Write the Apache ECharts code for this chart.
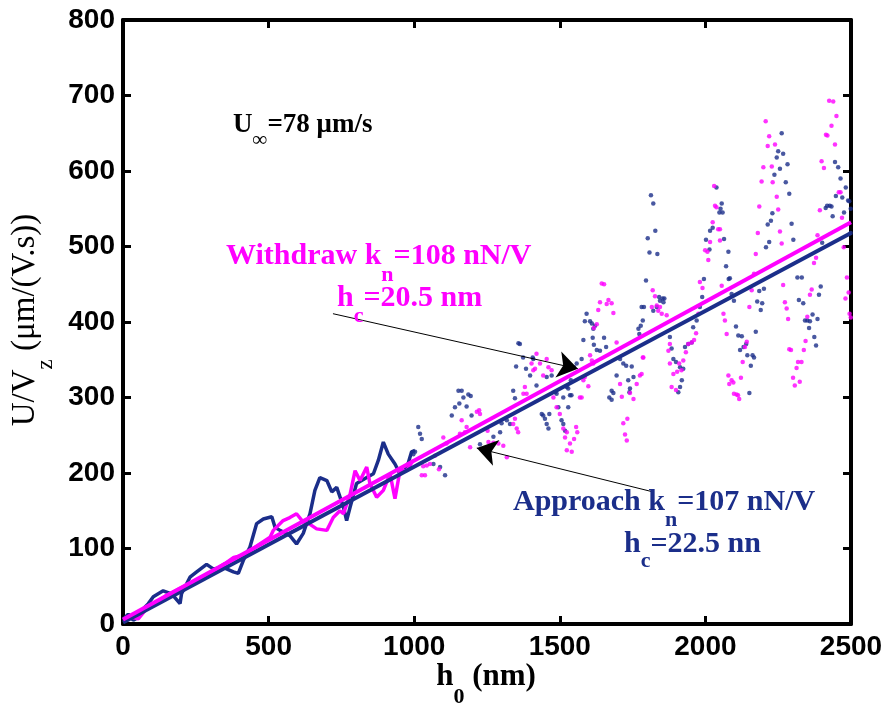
<!DOCTYPE html>
<html>
<head>
<meta charset="utf-8">
<script src="https://cdn.jsdelivr.net/npm/echarts@6/dist/echarts.min.js"></script>
<style>
html, body { margin: 0; padding: 0; background: #fff; }
#chart { width: 891px; height: 712px; }
</style>
</head>
<body>
<div id="chart"></div>
<script>
// approach (blue) and withdraw (pink) data
var xTicks = [0, 2500, 500];
var yTicks = [0, 800, 100];

var approachLine = [
    [0, 6], [18, 13], [35, 5], [53, 9], [64, 18], [87, 27], [104, 36], [138, 44], [167, 40], [196, 27],
    [201, 40], [230, 62], [253, 69], [287, 79], [310, 73], [344, 75], [379, 69], [396, 67], [413, 84], [436, 102],
    [459, 133], [482, 139], [511, 142], [522, 128], [539, 124], [573, 117], [596, 106], [619, 120], [642, 146], [659, 177],
    [676, 194], [700, 190], [717, 175], [734, 181], [757, 155], [768, 137], [780, 155], [802, 186], [837, 194], [860, 199],
    [877, 217], [894, 241], [911, 225], [934, 212], [951, 199], [974, 206], [991, 228], [1003, 230]
];

var withdrawLine = [
    [0, 5], [30, 9], [53, 7], [76, 18], [87, 22], [120, 30], [150, 38], [200, 48], [250, 58], [300, 68],
    [350, 80], [380, 88], [413, 91], [440, 98], [470, 106], [505, 115], [516, 124], [550, 137], [573, 141], [596, 146],
    [619, 135], [631, 135], [665, 126], [700, 124], [722, 141], [745, 150], [757, 146], [780, 172], [797, 203], [814, 190],
    [837, 208], [848, 186], [871, 168], [894, 177], [917, 199], [934, 166], [951, 203], [974, 203], [997, 217]
];

var approachDots = [
    [997, 225], [1003, 228], [1014, 261], [1020, 252], [1026, 245], [1066, 212], [1089, 208], [1106, 197],
    [1129, 276], [1140, 287], [1152, 309], [1155, 292], [1163, 309], [1169, 300], [1180, 288], [1186, 304], [1194, 302], [1197, 276],
    [1226, 238], [1272, 248], [1295, 254], [1300, 266], [1318, 270], [1329, 265],
    [1340, 309], [1346, 299], [1350, 341], [1358, 372], [1363, 371], [1374, 353], [1384, 338], [1398, 329], [1407, 353], [1409, 351], [1420, 316],
    [1438, 278], [1443, 276], [1449, 272], [1455, 265], [1461, 259], [1464, 278], [1455, 327], [1472, 329],
    [1484, 307], [1489, 305], [1495, 287], [1506, 270], [1512, 265], [1518, 256], [1512, 300], [1524, 314], [1529, 287], [1529, 312], [1535, 303], [1540, 303],
    [1538, 323], [1549, 340], [1558, 345], [1575, 351], [1581, 376], [1586, 401], [1592, 411], [1604, 401], [1610, 398], [1613, 379],
    [1615, 391], [1617, 370], [1621, 395], [1627, 363], [1638, 362], [1652, 379], [1659, 367],
    [1670, 300], [1678, 309], [1678, 297], [1684, 306], [1695, 329], [1707, 351], [1718, 345], [1728, 342], [1735, 323], [1739, 307],
    [1741, 312], [1747, 341], [1753, 327],
    [1770, 391], [1773, 384], [1778, 395], [1781, 420], [1785, 402], [1789, 420], [1796, 455], [1802, 511], [1808, 492], [1813, 568],
    [1821, 557], [1821, 415], [1828, 521], [1833, 420], [1835, 490], [1841, 433], [1844, 428], [1853, 431], [1856, 426], [1859, 431],
    [1878, 380], [1884, 365], [1890, 351], [1899, 347], [1907, 307], [1913, 340], [1913, 314], [1919, 323], [1924, 338], [1930, 367],
    [1941, 371], [1953, 373], [1958, 393], [1970, 402], [1981, 420], [1989, 433], [1995, 457],
    [2002, 509], [2014, 496], [2016, 521], [2025, 525], [2038, 578], [2048, 545], [2052, 550], [2056, 557], [2059, 545], [2064, 510],
    [2071, 474], [2079, 493], [2080, 457], [2084, 458], [2090, 437], [2098, 428],
    [2105, 394], [2113, 382], [2119, 363], [2125, 381], [2131, 367], [2140, 371], [2144, 356], [2151, 306], [2156, 342], [2162, 356],
    [2167, 353], [2173, 387], [2178, 427], [2185, 441], [2190, 416], [2195, 425], [2201, 444], [2208, 499], [2214, 529], [2219, 506],
    [2225, 534], [2230, 544], [2237, 595], [2245, 618], [2250, 626], [2256, 603], [2262, 650], [2267, 623], [2276, 585], [2282, 609],
    [2288, 570], [2296, 530], [2302, 509],
    [2316, 459], [2321, 429], [2331, 459], [2336, 425], [2342, 402], [2350, 402], [2356, 392], [2359, 401], [2368, 410], [2374, 380],
    [2380, 369], [2385, 404], [2390, 436], [2396, 447],
    [2401, 505], [2413, 551], [2418, 554], [2427, 554], [2433, 553], [2437, 540], [2445, 612], [2448, 567], [2456, 605], [2464, 590],
    [2470, 565], [2476, 545], [2482, 578], [2490, 561], [2494, 560], [2499, 550], [2499, 518]
];

var withdrawDots = [
    [1026, 197], [1037, 197], [1031, 209], [1043, 210], [1054, 212], [1071, 223], [1085, 205], [1100, 247], [1111, 239],
    [1157, 252], [1163, 270], [1174, 254], [1180, 261], [1192, 234], [1215, 281], [1223, 283], [1226, 278], [1252, 256], [1255, 241],
    [1272, 240], [1289, 239], [1306, 236], [1318, 221],
    [1340, 265], [1346, 272], [1352, 259], [1357, 254], [1375, 305], [1380, 314], [1386, 305], [1403, 345], [1409, 336], [1415, 338],
    [1420, 358], [1432, 345], [1443, 329], [1455, 351], [1461, 340], [1472, 336],
    [1478, 300], [1489, 287], [1500, 278], [1512, 259], [1518, 247], [1524, 254], [1524, 230], [1535, 239], [1541, 228],
    [1549, 245], [1556, 261], [1560, 254], [1569, 300], [1575, 300], [1581, 323], [1586, 327], [1598, 315], [1604, 356], [1610, 349],
    [1615, 345], [1617, 392], [1627, 397], [1632, 416], [1638, 426], [1644, 451], [1652, 450], [1661, 424], [1667, 429], [1678, 425],
    [1684, 412], [1695, 373],
    [1707, 318], [1713, 301], [1718, 266], [1724, 251], [1730, 243], [1732, 272], [1741, 306], [1753, 298], [1764, 318], [1775, 329],
    [1781, 331], [1785, 353], [1787, 353],
    [1816, 420], [1819, 442], [1827, 434], [1833, 422], [1838, 415], [1844, 420], [1850, 411], [1867, 409],
    [1873, 362], [1878, 371], [1878, 345], [1884, 314], [1890, 331], [1899, 310], [1903, 334], [1910, 345], [1918, 336], [1924, 349],
    [1933, 360], [1941, 371], [1953, 373], [1961, 376], [1968, 385], [1976, 411], [1981, 453], [1990, 445],
    [1999, 495], [2007, 493], [2010, 482], [2016, 506], [2025, 532], [2030, 580], [2033, 554], [2038, 552], [2044, 523], [2050, 508],
    [2050, 523], [2056, 448], [2062, 411], [2067, 402], [2073, 384], [2079, 329], [2082, 318],
    [2090, 323], [2096, 320], [2098, 305], [2107, 304], [2112, 303], [2116, 298], [2122, 326], [2128, 347], [2136, 367], [2142, 374],
    [2151, 420], [2159, 442], [2167, 464], [2173, 490], [2180, 518], [2185, 553], [2193, 586], [2199, 605], [2207, 666], [2214, 633],
    [2219, 646], [2228, 606], [2231, 585], [2239, 635], [2245, 566], [2250, 549], [2256, 520], [2262, 504],
    [2267, 449], [2273, 426], [2279, 418], [2284, 404], [2288, 364], [2294, 363], [2301, 326], [2307, 316], [2313, 339], [2318, 347],
    [2324, 321], [2330, 347], [2338, 363], [2344, 375], [2350, 407], [2359, 436], [2365, 443], [2373, 478], [2380, 485], [2385, 515],
    [2393, 548],
    [2399, 613], [2407, 604], [2414, 648], [2419, 647], [2425, 693], [2433, 660], [2439, 692], [2445, 635], [2450, 673], [2458, 572],
    [2464, 572], [2469, 538], [2475, 499], [2481, 431], [2486, 459], [2492, 439], [2495, 411], [2499, 406]
];

// linear fits (end points)
var approachFit = [[0, 2], [2500, 518]];
var withdrawFit = [[0, 6], [2500, 532]];

// arrows: [from, to]
var withdrawArrow = [[721, 411], [1562, 338]];
var approachArrow = [[1820, 175], [1215, 233]];

var BLUE = '#1b2e8a';
var PINK = '#ff00ff';
var SERIF = '"Liberation Serif", "Times New Roman", serif';
var SANS = '"Liberation Sans", Arial, sans-serif';

var myChart = echarts.init(document.getElementById('chart'));

// rich text with a subscript token: m = main, s = subscript
function subRich(color, size, sub, weight, drop) {
    return {
        m: {
            fontFamily: SERIF, fontSize: size, fontWeight: weight, fill: color, color: color,
            lineHeight: size + 2, verticalAlign: 'top'
        },
        s: {
            fontFamily: SERIF, fontSize: sub, fontWeight: weight, fill: color, color: color,
            lineHeight: sub, verticalAlign: 'top',
            padding: [Math.round((size + 2) / 2 + drop - sub / 2), 0, 0, 0]
        }
    };
}

function label(text, x, y, color, size, sub, weight, drop) {
    return {
        type: 'text',
        x: x,
        y: y,
        z: 100,
        style: { text: text, fill: color, rich: subRich(color, size, sub, weight, drop) }
    };
}

var axisCommon = {
    axisLine: { show: true, onZero: false, lineStyle: { color: '#000', width: 4 } },
    axisTick: { show: true, inside: true, length: 8, lineStyle: { color: '#000', width: 3 } },
    splitLine: { show: false }
};

function xAxisOf(pos, labels) {
    return Object.assign({
        type: 'value',
        position: pos,
        min: xTicks[0],
        max: xTicks[1],
        interval: xTicks[2],
        axisLabel: {
            show: labels, color: '#000', fontFamily: SANS, fontWeight: 'bold', fontSize: 28, margin: 9,
            formatter: function (v) { return String(v); }
        }
    }, axisCommon);
}

function yAxisOf(pos, labels) {
    return Object.assign({
        type: 'value',
        position: pos,
        min: yTicks[0],
        max: yTicks[1],
        interval: yTicks[2],
        axisLabel: {
            show: labels, color: '#000', fontFamily: SANS, fontWeight: 'bold', fontSize: 28, margin: 8,
            formatter: function (v) { return String(v); }
        }
    }, axisCommon);
}

var option = {
    animation: false,
    backgroundColor: '#fff',
    grid: {
        left: 123,
        right: 40,
        top: 20,
        bottom: 88,
        containLabel: false,
        outerBoundsMode: 'none'
    },
    xAxis: [xAxisOf('bottom', true), xAxisOf('top', false)],
    yAxis: [yAxisOf('left', true), yAxisOf('right', false)],
    graphic: [
        label('{m|U}{s|∞}{m|=78 μm/s}', 233, 112, '#000', 27, 21, 'bold', 14),
        label('{m|Withdraw k}{s|n}{m|=108 nN/V}', 226, 241, PINK, 30, 22, 'bold', 18),
        label('{m|h}{s|c}{m|=20.5 nm}', 337, 283, PINK, 30, 22, 'bold', 17),
        label('{m|Approach k}{s|n}{m|=107 nN/V}', 513, 487, BLUE, 30, 22, 'bold', 17),
        label('{m|h}{s|c}{m|=22.5 nn}', 624, 529, BLUE, 30, 22, 'bold', 16),
        {
            type: 'text', x: 486, y: 661, z: 100,
            style: { text: '{m|h}{s|0}{m| (nm)}', fill: '#000', align: 'center', rich: subRich('#000', 31, 22, 'bold', 19) }
        },
        {
            type: 'text', x: 9, y: 320, z: 100, rotation: Math.PI / 2,
            style: { text: '{m|U/V}{s|z}{m| (μm/(V.s))}', fill: '#000', align: 'center', rich: subRich('#000', 33, 23, 'normal', 19) }
        }
    ],
    series: [
        {
            name: 'Approach',
            type: 'line',
            data: approachLine,
            showSymbol: false,
            lineStyle: { color: BLUE, width: 3.5 },
            z: 2
        },
        {
            name: 'Withdraw',
            type: 'line',
            data: withdrawLine,
            showSymbol: false,
            lineStyle: { color: PINK, width: 3.5 },
            z: 2
        },
        {
            name: 'Approach dots',
            type: 'scatter',
            data: approachDots,
            symbolSize: 4.5,
            itemStyle: { color: BLUE },
            z: 3
        },
        {
            name: 'Withdraw dots',
            type: 'scatter',
            data: withdrawDots,
            symbolSize: 4.5,
            itemStyle: { color: PINK },
            z: 3
        },
        {
            name: 'Approach fit',
            type: 'line',
            data: approachFit,
            showSymbol: false,
            lineStyle: { color: BLUE, width: 4 },
            z: 4
        },
        {
            name: 'Withdraw fit',
            type: 'line',
            data: withdrawFit,
            showSymbol: false,
            lineStyle: { color: PINK, width: 4 },
            z: 5,
            markLine: {
                silent: true,
                symbol: ['none', 'arrow'],
                symbolSize: 20,
                label: { show: false },
                itemStyle: { color: '#000' },
                lineStyle: { color: '#000', width: 1, type: 'solid' },
                data: [
                    [{ coord: withdrawArrow[0] }, { coord: withdrawArrow[1] }],
                    [{ coord: approachArrow[0] }, { coord: approachArrow[1] }]
                ]
            }
        }
    ]
};

myChart.setOption(option);
</script>
</body>
</html>
